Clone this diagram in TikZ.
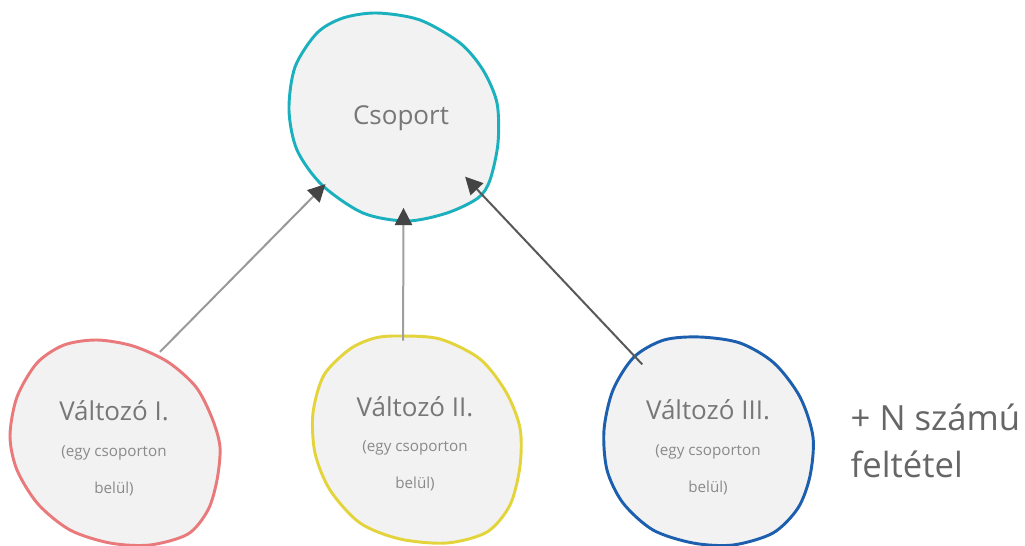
\documentclass[tikz,border=0pt]{standalone}
\usepackage{fontspec}
\setmainfont{Open Sans}
\usetikzlibrary{arrows.meta}

\definecolor{blobfill}{HTML}{F2F2F2}
\definecolor{groupteal}{HTML}{1BB0BD}
\definecolor{varred}{HTML}{E9797B}
\definecolor{varyellow}{HTML}{E4D43C}
\definecolor{varblue}{HTML}{1B5FAE}
\definecolor{labelgray}{HTML}{777777}
\definecolor{notegray}{HTML}{8A8A8A}
\definecolor{sidegray}{HTML}{666666}
\definecolor{tipgray}{HTML}{444444}

\begin{document}
\begin{tikzpicture}[
    x=0.75pt, y=-0.75pt,
    hub/.style={circle, minimum size=150pt, inner sep=0pt},
    blob/.style={line width=2.2pt, fill=blobfill, line join=round},
    title/.style={text=labelgray, font=\fontsize{19.5}{24}\selectfont},
    note/.style={text=notegray, align=center, font=\fontsize{11.4}{28}\selectfont},
    side/.style={text=sidegray, align=left, anchor=west, font=\fontsize{26}{35}\selectfont},
    link/.style={-{Triangle[length=13pt, width=13pt, color=tipgray]}, line width=1.5pt}
]
\useasboundingbox[fill=white] (0,0) rectangle (1025,546);

% invisible hubs, the blobs are drawn round them
\node[hub] (csoport) at (400,117) {};
\node[hub] (v1) at (116,442) {};
\node[hub] (v2) at (417,440) {};
\node[hub] (v3) at (708,440) {};

\begin{scope}[shift={(csoport)}]
\draw[blob, draw=groupteal] plot[smooth cycle] coordinates
    {(-23,-104) (20,-97) (60,-74) (83,-47) (97,-14) (98,26) (90,63) (78,81)
     (47,96) (7,104) (-37,96) (-78,68) (-103,33) (-111,-7) (-105,-50) (-83,-84) (-57,-99)};
\end{scope}
\begin{scope}[shift={(v1)}]
\draw[blob, draw=varred] plot[smooth cycle] coordinates
    {(-19,-102) (17,-96) (52,-80) (80,-55) (96,-24) (104,5) (101,38) (92,68) (72,92)
     (34,103) (-6,101) (-46,88) (-78,62) (-99,28) (-106,-6) (-99,-45) (-79,-79) (-52,-97)};
\end{scope}
\begin{scope}[shift={(v2)}]
\draw[blob, draw=varyellow] plot[smooth cycle] coordinates
    {(-17,-104) (23,-101) (63,-81) (89,-48) (103,-12) (103,26) (93,65) (70,92)
     (30,103) (-17,99) (-57,83) (-87,50) (-102,13) (-104,-27) (-93,-65) (-67,-91) (-42,-102)};
\end{scope}
\begin{scope}[shift={(v3)}]
\draw[blob, draw=varblue] plot[smooth cycle] coordinates
    {(-8,-103) (32,-97) (66,-77) (92,-43) (105,-3) (102,36) (90,68) (65,93)
     (25,105) (-15,103) (-55,90) (-85,63) (-101,30) (-104,-10) (-95,-50) (-74,-83) (-44,-100)};
\end{scope}

% texts
\node[title] (csoporttxt) at (401,118) {Csoport};
\node[title] (v1txt) at (114,411) {Változó I.};
\node[note] (v1note) at (114,471) {(egy csoporton\\belül)};
\node[title] (v2txt) at (415,407) {Változó II.};
\node[note] (v2note) at (415,466) {(egy csoporton\\belül)};
\node[title] (v3txt) at (708,410) {Változó III.};
\node[note] (v3note) at (708,470) {(egy csoporton\\belül)};
\node[side] (more) at (846,441) {+ N számú\\feltétel};

% links
\draw[link, draw=gray!80] (v1.64) -- (csoport.-138);
\draw[link, draw=gray!75, shorten >=-7pt] (v2.98) -- (csoport.-88);
\draw[link, draw=black!65, shorten >=-9pt] (v3.131) -- (csoport.-43);
\end{tikzpicture}
\end{document}
